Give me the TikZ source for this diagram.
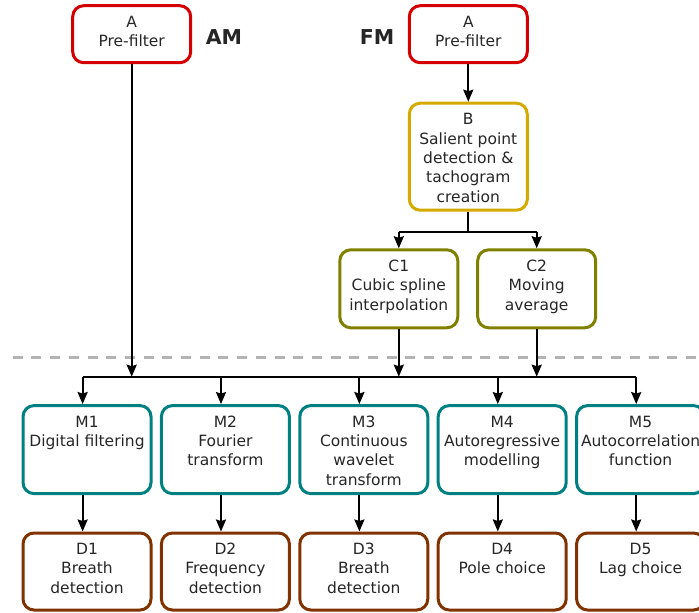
\documentclass[tikz,border=0pt]{standalone}
\usepackage{fontspec}
\setmainfont{DejaVu Sans}
\usetikzlibrary{arrows.meta}

\definecolor{stageA}{HTML}{D40000}
\definecolor{stageB}{HTML}{D4AA00}
\definecolor{stageC}{HTML}{808000}
\definecolor{stageM}{HTML}{008080}
\definecolor{stageD}{HTML}{803300}
\definecolor{divider}{HTML}{B3B3B3}
\definecolor{ink}{HTML}{262626}

% box contents: lines stacked from the top of a #1 x #2 area
\newcommand{\toplines}[3]{\vbox to #2{\hbox to #1{\hss\begin{tabular}[t]{@{}c@{}}\rule{0pt}{21.5pt}#3\end{tabular}\hss}\vss}}

\tikzset{
  stagebox/.style={draw=#1, line width=3pt, rounded corners=11pt, inner sep=0pt,
    fill=white, text=ink, font=\fontsize{15.5}{19.4}\selectfont},
  link/.style={line width=2pt, black},
  arr/.style={link, -{Stealth[length=12pt, width=10pt, inset=1.5pt]}},
  branch/.style={font=\fontsize{20.5}{24}\selectfont\bfseries, text=ink, inner sep=0pt},
}

\begin{document}
\begin{tikzpicture}[x=1pt, y=-1pt]
\useasboundingbox (0,0) rectangle (699,613);
\clip (0,0) rectangle (699,613);

% upper stages
\node[stagebox=stageA] (AAM) at (131.7,34.2) {\toplines{118pt}{57pt}{A\\Pre-filter}};
\node[stagebox=stageA] (AFM) at (468.3,34.2) {\toplines{118pt}{57pt}{A\\Pre-filter}};
\node[branch] (labAM) at (224,37.5) {AM};
\node[branch] (labFM) at (377,37.5) {FM};
\node[stagebox=stageB] (B) at (468.3,156.7) {\toplines{118pt}{107pt}{B\\Salient point\\detection \&\\tachogram\\creation}};
\node[stagebox=stageC] (C1) at (398.8,288.8) {\toplines{118pt}{78pt}{C1\\Cubic spline\\interpolation}};
\node[stagebox=stageC] (C2) at (536.7,288.8) {\toplines{118pt}{78pt}{C2\\Moving\\average}};

% divider
\draw[divider, line width=3pt, dash pattern=on 10pt off 8.7pt] (12.7,357) -- (699,357);

% method and detection rows
\foreach \i/\x/\mt/\dt in {
  1/87.0/{M1\\Digital filtering}/{D1\\Breath\\detection},
  2/225.4/{M2\\Fourier\\transform}/{D2\\Frequency\\detection},
  3/363.8/{M3\\Continuous\\wavelet\\transform}/{D3\\Breath\\detection},
  4/502.2/{M4\\Autoregressive\\modelling}/{D4\\Pole choice},
  5/640.6/{M5\\Autocorrelation\\function}/{D5\\Lag choice}} {
  \node[stagebox=stageM] (M\i) at (\x,449.6) {\toplines{128pt}{88pt}{\mt}};
  \node[stagebox=stageD] (D\i) at (\x,571.5) {\toplines{128pt}{77pt}{\dt}};
}

% connectors
\coordinate (bus) at (0,376.7);
\coordinate (split) at ([yshift=-19.8pt]B.south);

\draw[arr] (AFM.south) -- (B.north);
\draw[link] (B.south) -- (split);
\draw[link] (C1.north |- split) -- (C2.north |- split);
\draw[arr] (C1.north |- split) -- (C1.north);
\draw[arr] (C2.north |- split) -- (C2.north);

\draw[link] ([xshift=-4.4pt]M1.north |- bus) -- ([xshift=-4.4pt]M5.north |- bus);
\draw[arr] (AAM.south) -- (AAM.south |- bus);
\draw[arr] (C1.south) -- (C1.south |- bus);
\draw[arr] (C2.south) -- (C2.south |- bus);

\foreach \i in {1,...,5} {
  \draw[arr] ([xshift=-4.4pt]M\i.north |- bus) -- ([xshift=-4.4pt]M\i.north);
  \draw[arr] ([xshift=-4.4pt]M\i.south) -- ([xshift=-4.4pt]D\i.north);
}
\end{tikzpicture}
\end{document}
